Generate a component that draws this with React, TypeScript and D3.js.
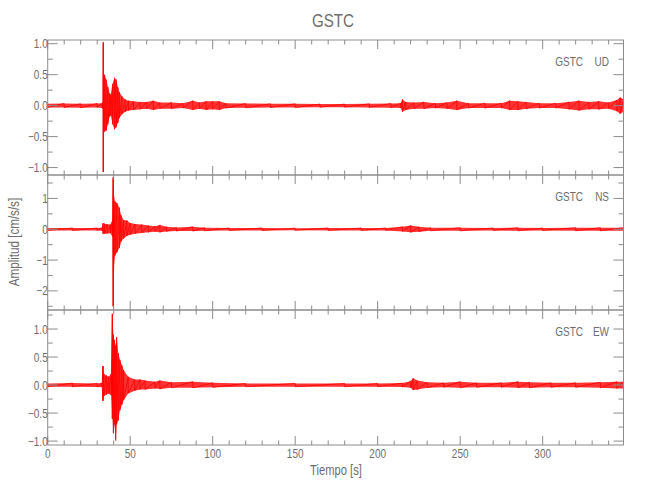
import React from "react";
import * as d3 from "d3";

// ---- data ----
// Envelope of each trace: time [s], max and min amplitude [cm/s/s]
const udTime = [0, 10, 20, 30, 33.0, 33.6, 33.65, 33.75, 33.8, 34.5, 35.5, 36.5, 37.5, 38.3, 39.3, 40.5, 41.5, 42.5, 43.5, 45, 47, 49, 52, 56, 60, 64, 68, 75, 82, 88, 92, 96, 100, 104, 108, 120, 135, 150, 165, 180, 195, 208, 214, 215, 217, 222, 228, 235, 242, 248, 255, 265, 275, 280, 285, 290, 298, 308, 316, 322, 328, 334, 340, 345, 347, 349];
const udMax = [0.03, 0.035, 0.03, 0.035, 0.04, 0.06, 1.02, 1.02, 0.45, 0.5, 0.42, 0.3, 0.2, 0.18, 0.35, 0.45, 0.42, 0.3, 0.22, 0.15, 0.1, 0.08, 0.07, 0.06, 0.06, 0.08, 0.05, 0.05, 0.04, 0.08, 0.05, 0.07, 0.07, 0.07, 0.04, 0.035, 0.03, 0.03, 0.025, 0.025, 0.03, 0.035, 0.04, 0.1, 0.06, 0.05, 0.06, 0.04, 0.05, 0.08, 0.04, 0.04, 0.04, 0.08, 0.07, 0.06, 0.04, 0.04, 0.06, 0.08, 0.06, 0.07, 0.05, 0.09, 0.13, 0.1];
const udMin = [-0.03, -0.03, -0.035, -0.03, -0.04, -0.05, -1.07, -1.07, -0.3, -0.42, -0.4, -0.3, -0.18, -0.16, -0.3, -0.38, -0.35, -0.28, -0.2, -0.14, -0.1, -0.08, -0.07, -0.06, -0.05, -0.07, -0.05, -0.05, -0.04, -0.07, -0.05, -0.07, -0.06, -0.07, -0.04, -0.035, -0.03, -0.03, -0.025, -0.025, -0.03, -0.035, -0.04, -0.1, -0.07, -0.05, -0.05, -0.04, -0.05, -0.07, -0.04, -0.04, -0.04, -0.07, -0.07, -0.05, -0.04, -0.04, -0.06, -0.08, -0.06, -0.06, -0.05, -0.09, -0.13, -0.1];

const nsTime = [0, 15, 30, 33.0, 33.5, 34.5, 36, 38, 39.3, 39.65, 39.75, 39.9, 40.8, 42, 43.5, 44.5, 46, 48, 50, 53, 57, 61, 65, 68, 72, 78, 88, 95, 110, 130, 150, 170, 190, 205, 215, 220, 225, 232, 250, 270, 285, 300, 320, 335, 349];
const nsMax = [0.04, 0.04, 0.04, 0.05, 0.2, 0.18, 0.16, 0.15, 0.3, 1.68, 1.68, 1.2, 0.9, 0.85, 0.7, 0.45, 0.3, 0.28, 0.2, 0.17, 0.15, 0.12, 0.1, 0.14, 0.08, 0.06, 0.08, 0.05, 0.04, 0.04, 0.035, 0.04, 0.04, 0.04, 0.08, 0.12, 0.08, 0.05, 0.05, 0.04, 0.05, 0.04, 0.05, 0.05, 0.05];
const nsMin = [-0.04, -0.04, -0.04, -0.05, -0.15, -0.15, -0.14, -0.13, -0.25, -2.5, -2.5, -1.35, -0.85, -0.75, -0.6, -0.4, -0.3, -0.22, -0.18, -0.15, -0.12, -0.1, -0.08, -0.1, -0.07, -0.06, -0.06, -0.05, -0.04, -0.04, -0.035, -0.04, -0.04, -0.04, -0.07, -0.1, -0.08, -0.05, -0.05, -0.04, -0.05, -0.04, -0.05, -0.05, -0.05];

const ewTime = [0, 15, 30, 33.0, 33.45, 33.55, 34, 35.5, 37, 38.5, 39.15, 39.25, 39.8, 40.5, 41.2, 41.8, 42.8, 43.8, 45, 46, 48.8, 52.8, 56, 59, 65, 68, 75, 88, 100, 120, 150, 180, 200, 215, 220, 221.5, 224, 230, 240, 250, 260, 275, 285, 292, 305, 320, 335, 345, 349];
const ewMax = [0.03, 0.035, 0.03, 0.04, 0.34, 0.34, 0.2, 0.17, 0.15, 0.2, 1.27, 1.27, 0.9, 0.8, 0.7, 0.86, 0.57, 0.45, 0.35, 0.27, 0.15, 0.1, 0.1, 0.08, 0.06, 0.08, 0.05, 0.06, 0.04, 0.03, 0.03, 0.03, 0.03, 0.035, 0.07, 0.12, 0.08, 0.05, 0.04, 0.06, 0.04, 0.04, 0.06, 0.05, 0.04, 0.04, 0.05, 0.06, 0.06];
const ewMin = [-0.03, -0.03, -0.035, -0.04, -0.28, -0.28, -0.2, -0.17, -0.15, -0.18, -0.6, -0.6, -0.86, -0.7, -0.99, -0.7, -0.63, -0.45, -0.35, -0.27, -0.15, -0.1, -0.08, -0.08, -0.06, -0.07, -0.05, -0.05, -0.04, -0.03, -0.03, -0.03, -0.03, -0.035, -0.05, -0.09, -0.08, -0.05, -0.04, -0.05, -0.04, -0.04, -0.05, -0.05, -0.04, -0.04, -0.05, -0.06, -0.06];

const udDomain = [-1.12, 1.06];
const nsDomain = [-2.62, 1.76];
const ewDomain = [-1.07, 1.34];

const udMajor = [-1, -0.5, 0, 0.5, 1];
const udMinor = [-0.75, -0.25, 0.25, 0.75];
const nsMajor = [-2, -1, 0, 1];
const nsMinor = [-2.5, -1.5, -0.5, 0.5, 1.5];
const ewMajor = [-1, -0.5, 0, 0.5, 1];
const ewMinor = [-0.75, -0.25, 0.25, 0.75, 1.25];

const xMajor = [0, 50, 100, 150, 200, 250, 300];
const xMinor = d3.range(0, 350, 10).filter((v) => v % 50 !== 0);

const station = "GSTC";
const channels = ["UD", "NS", "EW"];
const title = "GSTC";
const xTitle = "Tiempo [s]";
const yTitle = "Amplitud [cm/s/s]";

// ---- layout ----
const W = 650, H = 500;
const left = 47.7, right = 623.5;
const panelTop = [40, 175, 310];
const panelH = 135;
const axisColor = "#8c8c8c";
const textColor = "#6e6e6e";
const font = "'Liberation Sans', Arial, sans-serif";
const SQUEEZE = 0.8;

const fmtMinus = (s: string) => s.replace("-", "\u2212");

function T({ x, y, size, anchor = "start", rotate = 0, dy, children }: any) {
  return (
    <text
      transform={`translate(${x},${y}) rotate(${rotate}) scale(${SQUEEZE},1)`}
      textAnchor={anchor}
      dy={dy}
      fontSize={size}
      fill={textColor}
      fontFamily={font}
    >
      {children}
    </text>
  );
}

type PanelProps = {
  idx: number;
  time: number[];
  vmax: number[];
  vmin: number[];
  domain: number[];
  major: number[];
  minor: number[];
  fmt: (v: number) => string;
  channel: string;
  showX: boolean;
};

const x = d3.scaleLinear().domain([0, 349]).range([left, right]);

function Panel({ idx, time, vmax, vmin, domain, major, minor, fmt, channel, showX }: PanelProps) {
  const top = panelTop[idx];
  const bottom = top + panelH;
  const y = d3.scaleLinear().domain(domain).range([bottom, top]);
  const pts = time.map((t, i) => ({ t, hi: vmax[i], lo: vmin[i] }));
  const area = d3
    .area<{ t: number; hi: number; lo: number }>()
    .x((d) => x(d.t))
    .y0((d) => y(d.lo))
    .y1((d) => y(d.hi))(pts) as string;
  const bars = pts
    .map((d, i) => `${i ? "L" : "M"}${x(d.t)},${y(d.hi)}L${x(d.t)},${y(d.lo)}`)
    .join("");
  const clipId = `clip${idx}`;
  return (
    <g>
      <clipPath id={clipId}>
        <rect x={left} y={top} width={right - left} height={panelH} />
      </clipPath>
      <g clipPath={`url(#${clipId})`}>
        <path d={area} fill="#ff0000" fillOpacity={0.8} stroke="none" />
        <path d={bars} fill="none" stroke="#ff0000" strokeWidth={0.8} />
      </g>
      <rect x={left} y={top} width={right - left} height={panelH} fill="none" stroke={axisColor} strokeWidth={1} />
      {xMajor.map((v) => (
        <g key={"xM" + v}>
          <line x1={x(v)} x2={x(v)} y1={top} y2={top + 9} stroke={axisColor} />
          <line x1={x(v)} x2={x(v)} y1={bottom} y2={bottom - 9} stroke={axisColor} />
        </g>
      ))}
      {xMinor.map((v) => (
        <g key={"xm" + v}>
          <line x1={x(v)} x2={x(v)} y1={top} y2={top + 4.5} stroke={axisColor} />
          <line x1={x(v)} x2={x(v)} y1={bottom} y2={bottom - 4.5} stroke={axisColor} />
        </g>
      ))}
      {major.map((v) => (
        <g key={"yM" + v}>
          <line x1={left} x2={left + 10} y1={y(v)} y2={y(v)} stroke={axisColor} />
          <line x1={right} x2={right - 10} y1={y(v)} y2={y(v)} stroke={axisColor} />
          <T x={left} y={y(v)} dy="0.36em" anchor="end" size={12.5}>
            {fmtMinus(fmt(v))}
          </T>
        </g>
      ))}
      {minor.map((v) => (
        <g key={"ym" + v}>
          <line x1={left} x2={left + 5} y1={y(v)} y2={y(v)} stroke={axisColor} />
          <line x1={right} x2={right - 5} y1={y(v)} y2={y(v)} stroke={axisColor} />
        </g>
      ))}
      <T x={583} y={top + 26} anchor="end" size={12.5}>
        {station}
      </T>
      <T x={609} y={top + 26} anchor="end" size={12.5}>
        {channel}
      </T>
      {showX &&
        xMajor.map((v) => (
          <T key={"xl" + v} x={x(v)} y={458} anchor="middle" size={12.5}>
            {v}
          </T>
        ))}
    </g>
  );
}

export default function App() {
  const f1 = (v: number) => v.toFixed(1);
  const f0 = (v: number) => v.toFixed(0);
  return (
    <svg width={W} height={H} style={{ position: "absolute", left: 0, top: 0, background: "#fff" }}>
      <rect width={W} height={H} fill="#fff" />
      <Panel idx={0} time={udTime} vmax={udMax} vmin={udMin} domain={udDomain} major={udMajor} minor={udMinor} fmt={f1} channel={channels[0]} showX={false} />
      <Panel idx={1} time={nsTime} vmax={nsMax} vmin={nsMin} domain={nsDomain} major={nsMajor} minor={nsMinor} fmt={f0} channel={channels[1]} showX={false} />
      <Panel idx={2} time={ewTime} vmax={ewMax} vmin={ewMin} domain={ewDomain} major={ewMajor} minor={ewMinor} fmt={f1} channel={channels[2]} showX={true} />
      <T x={333} y={27} anchor="middle" size={19}>
        {title}
      </T>
      <T x={336} y={475} anchor="middle" size={14}>
        {xTitle}
      </T>
      <T x={19} y={242} anchor="middle" size={14.5} rotate={-90}>
        {yTitle}
      </T>
    </svg>
  );
}
